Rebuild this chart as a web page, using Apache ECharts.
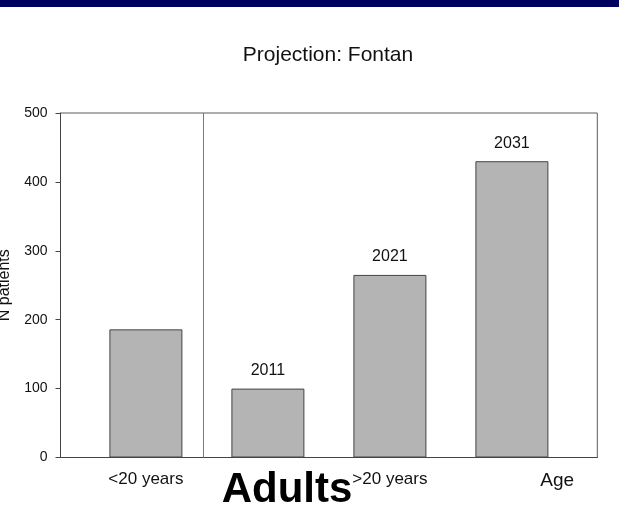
<!DOCTYPE html>
<html>
<head>
<meta charset="utf-8">
<title>Projection: Fontan</title>
<script src="https://cdn.jsdelivr.net/npm/echarts@6/dist/echarts.min.js"></script>
<style>
  html, body { margin: 0; padding: 0; background: #ffffff; }
  #chart { width: 619px; height: 523px; }
</style>
</head>
<body>
<div id="chart"></div>
<script>
// Fontan patient counts: children today and projected adults per decade
const groups = ['<20 years', 'Adults 2011', 'Adults 2021', 'Adults 2031'];
const positions = [1, 2, 3, 4];
const patients = [186, 100, 265, 430];
const yearLabels = ['', '2011', '2021', '2031'];

// x-axis text under the bars
const xTickAt = [1, 3];
const xTickLabels = ['<20 years', '>20 years'];

// y-axis scale
const yTicks = [0, 100, 200, 300, 400, 500];

// split between the paediatric bar and the adult projections
const adultsFrom = 1.47;

const FONT = '"Liberation Sans", Arial, Helvetica, sans-serif';

const chart = echarts.init(document.getElementById('chart'), null, { renderer: 'canvas' });

chart.setOption({
  backgroundColor: '#ffffff',
  animation: false,
  textStyle: { fontFamily: FONT },
  grid: {
    left: 60.5,
    right: 21.7,
    top: 113,
    bottom: 65.5,
    containLabel: false,
    outerBoundsMode: 'none',
    show: true,
    borderColor: '#5a5a5a',
    borderWidth: 1,
    backgroundColor: '#ffffff'
  },
  xAxis: {
    type: 'value',
    min: 0.3,
    max: 4.7,
    name: 'Age',
    nameLocation: 'end',
    nameGap: -57,
    nameTextStyle: {
      fontFamily: FONT,
      fontSize: 19,
      color: '#111',
      align: 'left',
      verticalAlign: 'top',
      padding: [14, 0, 0, 0]
    },
    axisLine: { show: true, lineStyle: { color: '#444', width: 1 } },
    axisTick: { show: false },
    splitLine: { show: false },
    axisLabel: {
      customValues: xTickAt,
      formatter: function (v) {
        const i = xTickAt.indexOf(v);
        return i >= 0 ? xTickLabels[i] : '';
      },
      fontFamily: FONT,
      fontSize: 17,
      color: '#111',
      margin: 13
    }
  },
  yAxis: {
    type: 'value',
    min: yTicks[0],
    max: yTicks[yTicks.length - 1],
    interval: 100,
    name: 'N patients',
    nameLocation: 'middle',
    nameGap: 48,
    nameTextStyle: { fontFamily: FONT, fontSize: 16, color: '#111' },
    axisLine: { show: true, lineStyle: { color: '#444', width: 1 } },
    axisTick: { show: true, length: 5, lineStyle: { color: '#444' } },
    splitLine: { show: false },
    axisLabel: { fontFamily: FONT, fontSize: 14, color: '#111', margin: 13 }
  },
  series: [{
    type: 'bar',
    name: 'N patients',
    barWidth: 73,
    data: positions.map((x, i) => [x, patients[i]]),
    itemStyle: { color: '#b4b4b4', borderColor: '#444', borderWidth: 1 },
    label: {
      show: true,
      position: 'top',
      distance: 10,
      fontFamily: FONT,
      fontSize: 16,
      color: '#111',
      formatter: p => yearLabels[p.dataIndex]
    },
    markLine: {
      silent: true,
      symbol: 'none',
      label: { show: false },
      lineStyle: { color: '#7a7a7a', width: 1, type: 'solid' },
      data: [{ xAxis: adultsFrom }]
    }
  }],
  graphic: [
    {
      type: 'rect',
      left: 0,
      top: 0,
      shape: { width: 619, height: 7 },
      style: { fill: '#00005f' }
    },
    {
      type: 'text',
      x: 328,
      y: 55,
      style: {
        text: 'Projection: Fontan',
        font: '21px ' + FONT,
        fill: '#111',
        align: 'center',
        verticalAlign: 'middle'
      }
    },
    {
      type: 'text',
      x: 287,
      y: 490,
      style: {
        text: 'Adults',
        font: 'bold 42px ' + FONT,
        fill: '#000',
        align: 'center',
        verticalAlign: 'middle'
      }
    }
  ]
});
</script>
</body>
</html>
